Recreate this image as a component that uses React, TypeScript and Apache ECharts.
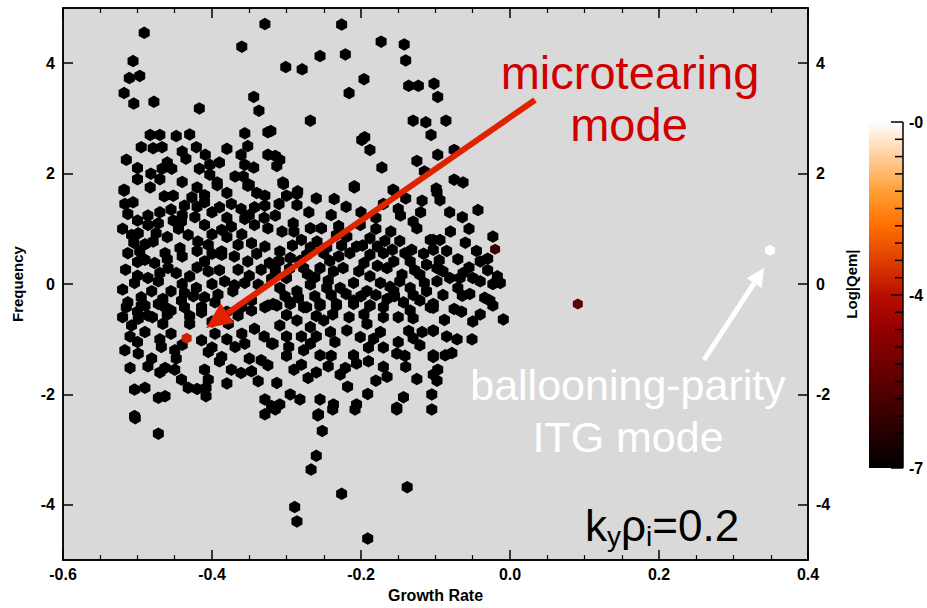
import React, { useEffect, useRef } from "react";
import * as echarts from "echarts";

// ---------------- data ----------------
const xTickValues = [-0.6, -0.4, -0.2, 0, 0.2, 0.4];
const yTickValues = [-4, -2, 0, 2, 4];
const colorbarLabels = ["-0", "-4", "-7"];
const logQemMin = -7.6;
const logQemMax = -0.4;
// red-temperature colour table, evenly spaced from min (black) to max (white)
const colorTable = [
  "#000000", "#250000", "#4A0000", "#6F0000", "#940000", "#B90E00",
  "#DE3F00", "#FF6F00", "#FF9F37", "#FFCF9B", "#FFFFFF",
];
const blackLogQem = -7.6;

// [growth rate, frequency] of modes with negligible |Qem| (black)
const blackModes: number[][] = [
  [-0.491, 4.55], [-0.329, 4.71], [-0.506, 4.04], [-0.511, 3.73], [-0.497, 3.77], [-0.518, 3.46],
  [-0.505, 3.27], [-0.478, 3.3], [-0.417, 3.18], [-0.36, 4.3], [-0.344, 3.39], [-0.337, 3.14],
  [-0.483, 2.7], [-0.47, 2.7], [-0.448, 2.68], [-0.43, 2.71], [-0.356, 2.73], [-0.325, 2.75],
  [-0.495, 2.48], [-0.479, 2.46], [-0.467, 2.48], [-0.421, 2.48], [-0.352, 2.5],
  [-0.515, 2.25], [-0.435, 2.27], [-0.409, 2.34], [-0.361, 2.34], [-0.325, 2.34],
  [-0.482, 2.0], [-0.467, 2.09], [-0.454, 2.09], [-0.417, 2.09], [-0.403, 2.16], [-0.403, 1.98],
  [-0.393, 1.84], [-0.356, 2.16], [-0.344, 2.11], [-0.369, 1.95], [-0.358, 1.95], [-0.35, 1.8],
  [-0.518, 1.71],
  [-0.226, 4.7], [-0.173, 4.39], [-0.142, 4.34], [-0.14, 4.05], [-0.255, 4.13], [-0.221, 4.16],
  [-0.301, 3.93], [-0.279, 3.89], [-0.196, 3.71], [-0.216, 3.46], [-0.136, 3.59], [-0.123, 3.59],
  [-0.102, 3.63], [-0.097, 3.39], [-0.268, 2.96], [-0.13, 2.96], [-0.113, 2.93], [-0.106, 2.7],
  [-0.321, 2.77], [-0.199, 2.61], [-0.195, 2.66], [-0.188, 2.43], [-0.172, 2.11], [-0.125, 2.23],
  [-0.115, 2.04], [-0.097, 2.34], [-0.315, 2.32], [-0.309, 2.25], [-0.313, 2.14], [-0.305, 1.84],
  [-0.285, 1.68], [-0.209, 1.77], [-0.157, 1.71], [-0.099, 1.73],
  [-0.086, 2.96], [-0.075, 2.43], [-0.075, 1.89], [-0.063, 1.84],
  [-0.518, 1.69], [-0.483, 1.75], [-0.464, 1.59], [-0.452, 1.6], [-0.427, 1.57], [-0.41, 1.61],
  [-0.393, 1.79], [-0.352, 1.78], [-0.329, 1.6], [-0.517, 1.45], [-0.506, 1.48], [-0.513, 1.27],
  [-0.486, 1.24], [-0.455, 1.35], [-0.437, 1.42], [-0.41, 1.48], [-0.39, 1.39], [-0.374, 1.45],
  [-0.361, 1.36], [-0.343, 1.39], [-0.329, 1.42], [-0.508, 0.89], [-0.499, 0.92], [-0.486, 1.07],
  [-0.472, 1.1], [-0.452, 1.15], [-0.441, 1.13], [-0.423, 1.21], [-0.41, 1.07], [-0.387, 0.98],
  [-0.374, 1.04], [-0.356, 1.18], [-0.343, 1.07], [-0.325, 1.01], [-0.513, 0.56], [-0.497, 0.59],
  [-0.479, 0.77], [-0.463, 0.56], [-0.443, 0.65], [-0.432, 0.89], [-0.419, 0.77], [-0.405, 0.71],
  [-0.387, 0.59], [-0.365, 0.71], [-0.347, 0.74], [-0.329, 0.68], [-0.516, 0.26], [-0.49, 0.44],
  [-0.477, 0.38], [-0.459, 0.29], [-0.448, 0.2], [-0.43, 0.14], [-0.41, 0.41], [-0.405, 0.23],
  [-0.387, 0.53], [-0.383, 0.05], [-0.365, 0.26], [-0.352, 0.41], [-0.334, 0.26], [-0.323, 0.38],
  [-0.504, 0.02], [-0.486, 0.11], [-0.472, 0.05], [-0.455, -0.13], [-0.437, -0.16], [-0.421, -0.07],
  [-0.41, -0.24], [-0.392, -0.19], [-0.372, -0.13], [-0.356, 0.02], [-0.338, -0.01], [-0.513, -0.33],
  [-0.495, -0.24], [-0.481, -0.13], [-0.466, -0.27], [-0.441, -0.3], [-0.425, -0.22], [-0.414, -0.42],
  [-0.396, -0.33], [-0.347, -0.3], [-0.325, -0.39], [-0.49, -0.39], [-0.463, -0.42],
  [-0.304, 1.81], [-0.286, 1.63], [-0.286, 1.43], [-0.236, 1.54], [-0.209, 1.75], [-0.156, 1.69],
  [-0.15, 1.36], [-0.147, 1.24], [-0.13, 1.13], [-0.125, 1.01], [-0.118, 1.51], [-0.098, 1.66],
  [-0.168, 0.78], [-0.148, 0.78], [-0.141, 0.56], [-0.107, 0.8], [-0.103, 0.62], [-0.315, 1.24],
  [-0.306, 0.95], [-0.291, 1.1], [-0.268, 1.01], [-0.253, 1.01], [-0.28, 0.8], [-0.259, 0.77],
  [-0.233, 0.89], [-0.219, 0.86], [-0.201, 1.07], [-0.188, 0.83], [-0.206, 0.68], [-0.309, 0.59],
  [-0.295, 0.47], [-0.273, 0.53], [-0.25, 0.56], [-0.23, 0.5], [-0.215, 0.56], [-0.188, 0.53],
  [-0.17, 0.56], [-0.156, 0.41], [-0.134, 0.41], [-0.112, 0.35], [-0.098, 0.29], [-0.315, 0.26],
  [-0.3, 0.11], [-0.277, 0.29], [-0.255, 0.29], [-0.237, 0.23], [-0.224, 0.29], [-0.203, 0.23],
  [-0.188, 0.14], [-0.165, 0.29], [-0.145, 0.17], [-0.121, 0.17], [-0.309, -0.07], [-0.286, -0.13],
  [-0.268, -0.01], [-0.246, -0.07], [-0.228, -0.07], [-0.21, 0.02], [-0.192, -0.13], [-0.174, 0.02],
  [-0.156, -0.13], [-0.134, -0.07], [-0.112, -0.13], [-0.098, 0.05], [-0.318, -0.36], [-0.295, -0.33],
  [-0.277, -0.42], [-0.255, -0.36], [-0.233, -0.36], [-0.21, -0.3], [-0.188, -0.39], [-0.165, -0.27],
  [-0.143, -0.33], [-0.121, -0.3], [-0.103, -0.36],
  [-0.094, 1.52], [-0.081, 1.3], [-0.064, 1.21], [-0.043, 1.34], [-0.055, 1.0], [-0.023, 0.86],
  [-0.04, 0.41], [-0.03, 0.46], [-0.095, 0.43], [-0.103, 0.8], [-0.094, 0.8], [-0.09, 0.23],
  [-0.081, 0.11], [-0.063, 0.2], [-0.05, 0.11], [-0.04, 0.05], [-0.067, 0.11], [-0.017, 0.14],
  [-0.013, 0.02], [-0.023, 0.0], [-0.07, -0.07], [-0.064, -0.21], [-0.054, -0.18], [-0.034, -0.25],
  [-0.027, -0.3], [-0.023, -0.39], [-0.103, -0.43], [-0.05, -0.68], [-0.009, -0.64], [-0.103, -0.84],
  [-0.071, -1.0], [-0.051, -1.0], [-0.103, -1.29], [-0.087, -1.29], [-0.078, -1.25], [-0.097, -1.55],
  [-0.085, 0.6], [-0.09, -0.2], [-0.075, -0.45], [-0.088, -0.65], [-0.098, -1.75], [-0.105, -2.0],
  [-0.515, -0.42], [-0.495, -0.39], [-0.472, -0.36], [-0.455, -0.48], [-0.437, -0.42], [-0.414, -0.51],
  [-0.499, -0.63], [-0.486, -0.57], [-0.508, -0.75], [-0.49, -0.87], [-0.466, -0.72], [-0.455, -0.9],
  [-0.43, -0.72], [-0.414, -1.02], [-0.396, -0.9], [-0.378, -0.72], [-0.365, -0.57], [-0.347, -0.48],
  [-0.329, -0.42], [-0.343, -0.81], [-0.32, -1.08], [-0.517, -1.2], [-0.499, -1.26], [-0.481, -1.35],
  [-0.468, -1.14], [-0.45, -1.2], [-0.448, -1.35], [-0.405, -1.23], [-0.387, -1.32], [-0.369, -1.14],
  [-0.356, -1.08], [-0.334, -1.38], [-0.325, -1.47], [-0.51, -1.52], [-0.486, -1.49], [-0.463, -1.52],
  [-0.41, -1.55], [-0.405, -1.73], [-0.374, -1.55], [-0.361, -1.61], [-0.347, -1.58], [-0.338, -1.76],
  [-0.441, -1.73], [-0.432, -1.88], [-0.504, -1.91], [-0.49, -1.88], [-0.472, -2.06], [-0.463, -2.03],
  [-0.408, -1.88], [-0.408, -2.03], [-0.329, -2.09], [-0.32, -2.21], [-0.504, -2.39],
  [-0.313, -0.39], [-0.295, -0.36], [-0.273, -0.42], [-0.255, -0.39], [-0.233, -0.39], [-0.21, -0.36],
  [-0.188, -0.39], [-0.17, -0.42], [-0.134, -0.48], [-0.107, -0.42], [-0.309, -0.75], [-0.286, -0.66],
  [-0.268, -0.78], [-0.25, -0.66], [-0.241, -0.87], [-0.219, -0.84], [-0.192, -0.72], [-0.174, -0.87],
  [-0.201, -0.96], [-0.183, -0.99], [-0.136, -0.85], [-0.118, -0.87], [-0.103, -0.85], [-0.121, -1.11],
  [-0.318, -1.08], [-0.297, -1.14], [-0.277, -1.2], [-0.255, -1.29], [-0.268, -1.08], [-0.21, -1.29],
  [-0.206, -1.44], [-0.221, -1.52], [-0.152, -1.26], [-0.141, -1.3], [-0.103, -1.32], [-0.28, -1.46],
  [-0.244, -1.49], [-0.228, -1.64], [-0.271, -1.7], [-0.313, -1.79], [-0.295, -2.0], [-0.309, -2.18],
  [-0.282, -2.09], [-0.255, -2.09], [-0.237, -2.18], [-0.218, -1.86], [-0.206, -2.18], [-0.191, -1.99],
  [-0.165, -1.68], [-0.125, -1.72], [-0.103, -1.64], [-0.143, -2.05], [-0.152, -2.24], [-0.257, -2.36],
  [-0.105, -2.27],
  [-0.503, -2.43], [-0.472, -2.71], [-0.329, -2.36], [-0.258, -2.38], [-0.252, -2.66], [-0.26, -3.11],
  [-0.267, -3.36], [-0.226, -3.8], [-0.289, -4.04], [-0.286, -4.3], [-0.191, -4.61], [-0.138, -3.68],
  [-0.152, -2.27], [-0.208, -2.27], [-0.238, -2.27], [-0.315, -2.27],
  // dense core, additional modes
  [-0.282, 0.42], [-0.262, 0.12], [-0.244, 0.06], [-0.242, 0.42], [-0.196, 0.38], [-0.178, 0.33],
  [-0.161, -0.05], [-0.148, 0.05], [-0.128, 0.25], [-0.116, 0.55], [-0.132, 0.62], [-0.158, 0.62],
  [-0.178, 0.68], [-0.198, 0.7], [-0.226, 0.7], [-0.246, 0.66], [-0.268, 0.66], [-0.292, 0.7],
  [-0.302, -0.22], [-0.284, -0.25], [-0.262, -0.22], [-0.24, -0.2], [-0.22, -0.18], [-0.2, -0.22],
  [-0.18, -0.2], [-0.155, -0.22], [-0.13, -0.2], [-0.115, 0.02], [-0.13, -0.62], [-0.15, -0.6],
  [-0.17, -0.6], [-0.196, -0.55], [-0.216, -0.6], [-0.238, -0.55], [-0.26, -0.58], [-0.3, -0.56],
  [-0.31, 0.42], [-0.296, 0.28], [-0.272, 0.18],
  [-0.505, 0.75], [-0.49, 0.72], [-0.475, 0.92], [-0.46, 0.85], [-0.445, 1.0], [-0.4, 0.9],
  [-0.38, 0.85], [-0.36, 0.9], [-0.5, 0.4], [-0.46, 0.45], [-0.44, 0.5], [-0.42, 0.6],
  [-0.4, 0.55], [-0.37, 0.5], [-0.34, 0.55], [-0.5, 0.15], [-0.47, 0.2], [-0.42, 0.3],
  [-0.39, 0.25], [-0.35, 0.15], [-0.32, 0.1], [-0.44, 0.0], [-0.4, 0.0], [-0.37, -0.02],
  [-0.52, -0.1], [-0.5, -0.5], [-0.48, -0.6], [-0.46, -0.55], [-0.43, -0.58], [-0.4, -0.68],
  [-0.38, -0.5], [-0.36, -0.42], [-0.51, -0.95], [-0.47, -1.0], [-0.44, -1.1], [-0.4, -1.15],
  [-0.38, -1.0], [-0.36, -0.9], [-0.33, -0.95], [-0.5, -1.05], [-0.52, -0.6], [-0.47, -1.6],
  [-0.45, -1.55], [-0.39, -1.4], [-0.35, -1.35], [-0.42, -1.9], [-0.38, -1.8], [-0.52, 1.0],
  [-0.5, 1.15], [-0.47, 1.3], [-0.44, 1.25], [-0.42, 1.4], [-0.4, 1.3], [-0.38, 1.2],
  [-0.35, 1.25], [-0.33, 1.2], [-0.42, 1.75], [-0.44, 1.85], [-0.47, 1.9], [-0.38, 1.65],
  [-0.34, 1.65], [-0.5, 1.9], [-0.5, 2.1], [-0.44, 2.4], [-0.39, 2.2], [-0.38, 2.45], [-0.46, 2.2],
  [-0.31, 1.45], [-0.3, 1.6], [-0.27, 1.3], [-0.26, 1.55], [-0.24, 1.25], [-0.22, 1.4],
  [-0.2, 1.3], [-0.18, 1.2], [-0.17, 1.45], [-0.14, 1.55], [-0.12, 1.3], [-0.23, 1.05],
  [-0.18, 1.0], [-0.16, 0.95], [-0.29, 0.95],
  [-0.3, -0.95], [-0.28, -0.95], [-0.26, -0.95], [-0.235, -1.05], [-0.19, -1.15], [-0.17, -1.15],
  [-0.15, -1.05], [-0.13, -0.98], [-0.3, -1.3], [-0.24, -1.3], [-0.19, -1.4], [-0.17, -1.5],
  [-0.29, -1.55], [-0.26, -1.6], [-0.18, -1.75], [-0.14, -1.5],
  [-0.08, 0.95], [-0.06, 0.75], [-0.045, 0.6], [-0.07, 0.45], [-0.055, 0.3], [-0.03, 0.25],
  [-0.085, -0.95], [-0.065, -0.5], [-0.04, -0.55],
];

// [growth rate, frequency, log|Qem|] of modes with visible colour
const coloredModes: number[][] = [
  [-0.02, 0.63, -6.45],
  [0.091, -0.36, -5.84],
  [-0.434, -0.98, -3.7],
  [0.349, 0.61, -0.4],
];

// ---------------- styling ----------------
const AXIS_FONT = "'Liberation Sans Narrow', 'Liberation Sans', Arial, sans-serif";
const TEXT_FONT = "'Liberation Sans', Arial, sans-serif";
const HEX = "path://M5,0 L9.33,2.5 L9.33,7.5 L5,10 L0.67,7.5 L0.67,2.5 Z";

export default function App() {
  const ref = useRef<HTMLDivElement>(null);

  useEffect(() => {
    if (!ref.current) return;
    const chart = echarts.init(ref.current, null, { renderer: "svg" });

    const cbX = 869, cbY = 122, cbW = 34, cbH = 346;
    const cbTicks: any[] = [];
    for (let i = 0; i <= 20; i++) {
      const major = i === 0 || i === 10 || i === 20;
      const y = cbY + (cbH * i) / 20;
      cbTicks.push({
        type: "line",
        shape: { x1: cbX + cbW - (major ? 12 : 8), y1: y, x2: cbX + cbW, y2: y },
        style: { stroke: "#000", lineWidth: 1.5 },
      });
    }
    const cbLabelEls = colorbarLabels.map((t, i) => ({
      type: "text",
      x: cbX + cbW + 6,
      y: cbY + (cbH * i) / 2,
      style: {
        text: t, fill: "#000", fontFamily: AXIS_FONT, fontWeight: "bold", fontSize: 16,
        align: "left", verticalAlign: "middle",
      },
    }));

    const stops = colorTable.map((c, i) => ({ offset: 1 - i / (colorTable.length - 1), color: c }));
    stops.reverse();

    // red arrow geometry
    const rTail = [535, 100], rTip = [206, 328];
    const rdx = rTip[0] - rTail[0], rdy = rTip[1] - rTail[1];
    const rl = Math.hypot(rdx, rdy);
    const ru = [rdx / rl, rdy / rl], rp = [-ru[1], ru[0]];
    const rBase = [rTip[0] - 26 * ru[0], rTip[1] - 26 * ru[1]];
    // white arrow geometry
    const wTail = [704, 360], wTip = [764, 268];
    const wdx = wTip[0] - wTail[0], wdy = wTip[1] - wTail[1];
    const wl = Math.hypot(wdx, wdy);
    const wu = [wdx / wl, wdy / wl], wp = [-wu[1], wu[0]];
    const wBase = [wTip[0] - 18 * wu[0], wTip[1] - 18 * wu[1]];

    const redText = {
      fill: "#D00000", fontFamily: TEXT_FONT, fontSize: 47, align: "center", verticalAlign: "middle",
      shadowColor: "rgba(255,255,255,0.95)", shadowBlur: 5,
    };
    const whiteText = {
      fill: "#FFFFFF", fontFamily: TEXT_FONT, fontSize: 43, align: "center", verticalAlign: "middle",
      shadowColor: "rgba(255,255,255,0.9)", shadowBlur: 5,
    };

    const axisLabelStyle = { color: "#000", fontFamily: AXIS_FONT, fontWeight: "bold", fontSize: 16 };
    const axisLineStyle = { onZero: false, lineStyle: { color: "#000", width: 1.5 } };

    chart.setOption({
      animation: false,
      backgroundColor: "#ffffff",
      grid: {
        left: 63, right: 119, top: 8, bottom: 40, show: true,
        backgroundColor: "#D9D9D9", borderColor: "#000", borderWidth: 1.5,
      },
      xAxis: [
        {
          type: "value", min: -0.6, max: 0.4, interval: 0.2, position: "bottom",
          name: "Growth Rate", nameLocation: "middle", nameGap: 22,
          nameTextStyle: { ...axisLabelStyle, fontSize: 16 },
          axisLine: axisLineStyle,
          axisTick: { inside: true, length: 10, lineStyle: { color: "#000", width: 1.5 } },
          minorTick: { show: true, splitNumber: 4, length: 5, lineStyle: { color: "#000", width: 1.2 } },
          axisLabel: { ...axisLabelStyle, margin: 6, formatter: (v: number) => v.toFixed(1), customValues: xTickValues },
          splitLine: { show: false },
        },
        {
          type: "value", min: -0.6, max: 0.4, interval: 0.2, position: "top",
          axisLine: axisLineStyle,
          axisTick: { inside: true, length: 10, lineStyle: { color: "#000", width: 1.5 } },
          minorTick: { show: true, splitNumber: 4, length: 5, lineStyle: { color: "#000", width: 1.2 } },
          axisLabel: { show: false },
          splitLine: { show: false },
        },
      ],
      yAxis: [
        {
          type: "value", min: -5, max: 5, position: "left",
          name: "Frequency", nameLocation: "middle", nameGap: 38,
          nameTextStyle: { ...axisLabelStyle, fontSize: 15 },
          axisLine: axisLineStyle,
          axisTick: { inside: true, length: 10, customValues: yTickValues, lineStyle: { color: "#000", width: 1.5 } },
          axisLabel: { ...axisLabelStyle, margin: 8, customValues: yTickValues },
          splitLine: { show: false },
        },
        {
          type: "value", min: -5, max: 5, position: "right",
          name: "Log|Qem|", nameLocation: "middle", nameGap: 36, nameRotate: 90,
          nameTextStyle: { ...axisLabelStyle, fontSize: 15 },
          axisLine: axisLineStyle,
          axisTick: { inside: true, length: 10, customValues: yTickValues, lineStyle: { color: "#000", width: 1.5 } },
          axisLabel: { ...axisLabelStyle, margin: 8, customValues: yTickValues },
          splitLine: { show: false },
        },
      ],
      visualMap: {
        type: "continuous", show: false, dimension: 2, min: logQemMin, max: logQemMax,
        inRange: { color: colorTable },
      },
      series: [
        {
          type: "scatter", xAxisIndex: 0, yAxisIndex: 0,
          symbol: HEX, symbolSize: [11, 12.5],
          data: blackModes.map((p) => [p[0], p[1], blackLogQem]),
          itemStyle: { opacity: 1 },
        },
        {
          type: "scatter", xAxisIndex: 0, yAxisIndex: 0,
          symbol: HEX, symbolSize: [10, 11],
          data: coloredModes,
          itemStyle: { opacity: 1 },
        },
      ],
      graphic: [
        {
          type: "rect", shape: { x: cbX, y: cbY, width: cbW, height: cbH },
          style: { fill: { type: "linear", x: 0, y: 0, x2: 0, y2: 1, colorStops: stops } },
        },
        { type: "line", shape: { x1: cbX + cbW, y1: cbY, x2: cbX + cbW, y2: cbY + cbH }, style: { stroke: "#000", lineWidth: 1.5 } },
        ...cbTicks,
        ...cbLabelEls,
        // red arrow
        {
          type: "line", shape: { x1: rTail[0], y1: rTail[1], x2: rBase[0], y2: rBase[1] },
          style: { stroke: "#E02200", lineWidth: 6 }, z: 100,
        },
        {
          type: "polygon", z: 100,
          shape: { points: [rTip, [rBase[0] + 12 * rp[0], rBase[1] + 12 * rp[1]], [rBase[0] - 12 * rp[0], rBase[1] - 12 * rp[1]]] },
          style: { fill: "#E02200" },
        },
        // white arrow
        {
          type: "line", shape: { x1: wTail[0], y1: wTail[1], x2: wBase[0], y2: wBase[1] },
          style: { stroke: "#FFFFFF", lineWidth: 5 }, z: 100,
        },
        {
          type: "polygon", z: 100,
          shape: { points: [wTip, [wBase[0] + 9 * wp[0], wBase[1] + 9 * wp[1]], [wBase[0] - 9 * wp[0], wBase[1] - 9 * wp[1]]] },
          style: { fill: "#FFFFFF" },
        },
        { type: "text", x: 630, y: 72, z: 100, style: { text: "microtearing", ...redText } },
        { type: "text", x: 629, y: 124, z: 100, style: { text: "mode", ...redText } },
        { type: "text", x: 628, y: 385, z: 100, style: { text: "ballooning-parity", ...whiteText } },
        { type: "text", x: 628, y: 437, z: 100, style: { text: "ITG mode", ...whiteText } },
        {
          type: "text", x: 585, y: 525, z: 100,
          style: {
            text: "{n|k}{s|y}{n|ρ}{s|i}{n|=0.2}",
            align: "left", verticalAlign: "middle",
            rich: {
              n: { fontFamily: TEXT_FONT, fontSize: 44, fill: "#000", lineHeight: 50, verticalAlign: "middle" },
              s: { fontFamily: TEXT_FONT, fontSize: 28, fill: "#000", lineHeight: 50, verticalAlign: "bottom" },
            },
          },
        },
      ],
    });

    return () => chart.dispose();
  }, []);

  return (
    <div
      ref={ref}
      style={{ position: "absolute", left: 0, top: 0, width: 927, height: 608 }}
    />
  );
}
